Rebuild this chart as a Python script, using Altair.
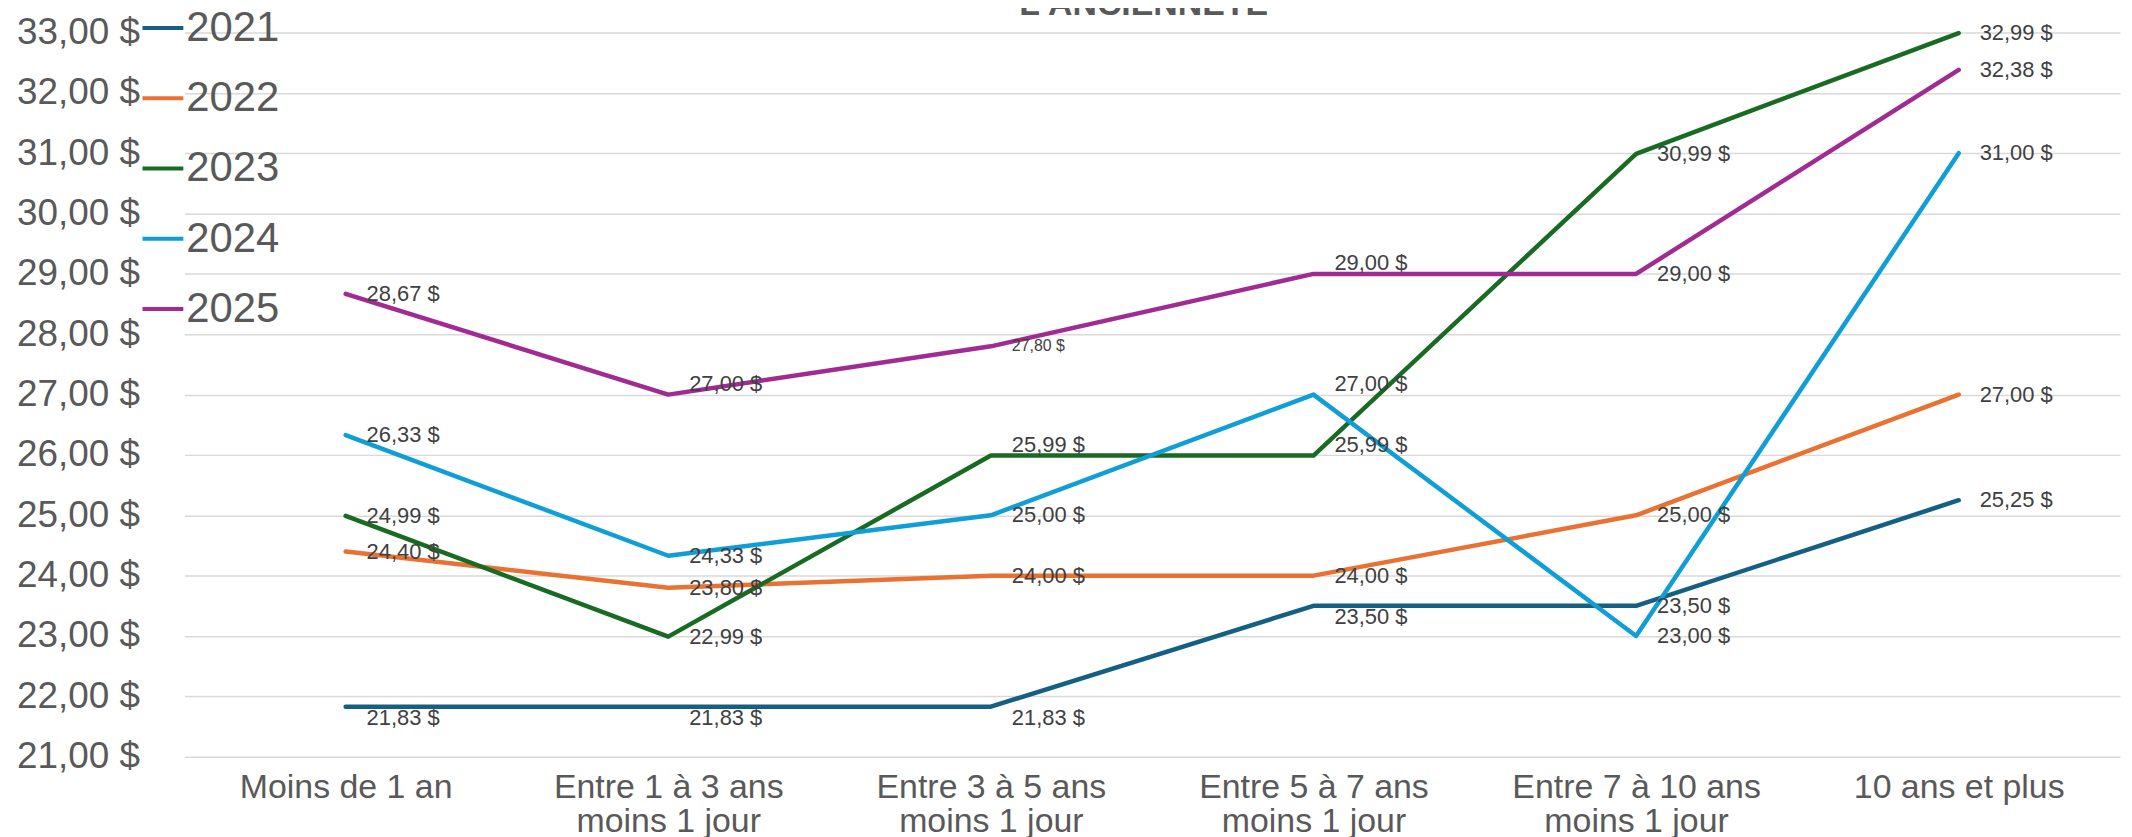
import altair as alt
import pandas as pd

CATEGORIES = [
    "Moins de 1 an",
    "Entre 1 à 3 ans moins 1 jour",
    "Entre 3 à 5 ans moins 1 jour",
    "Entre 5 à 7 ans moins 1 jour",
    "Entre 7 à 10 ans moins 1 jour",
    "10 ans et plus",
]
YEARS = ["2021", "2022", "2023", "2024", "2025"]
S2021 = [21.83, 21.83, 21.83, 23.50, 23.50, 25.25]
S2022 = [24.40, 23.80, 24.00, 24.00, 25.00, 27.00]
S2023 = [24.99, 22.99, 25.99, 25.99, 30.99, 32.99]
S2024 = [26.33, 24.33, 25.00, 27.00, 23.00, 31.00]
S2025 = [28.67, 27.00, 27.80, 29.00, 29.00, 32.38]
# Excel data-label placement per point
P2021 = ["below", "below", "below", "below", "right", "right"]
P2022 = ["right", "right", "right", "right", "right", "right"]
P2023 = ["right", "right", "above", "above", "right", "right"]
P2024 = ["right", "right", "right", "above", "right", "right"]
P2025 = ["right", "above", "small", "above", "right", "right"]
COLORS = ["#156082", "#E97132", "#196B24", "#0F9ED5", "#A02B93"]
TITLE = "L'ANCIENNETÉ"

FONT = "Liberation Sans"
series = [S2021, S2022, S2023, S2024, S2025]
places = [P2021, P2022, P2023, P2024, P2025]
rows = []
for year, vals, pos in zip(YEARS, series, places):
    for cat, v, p in zip(CATEGORIES, vals, pos):
        rows.append({"categorie": cat, "annee": year, "valeur": v, "pos": p})
df = pd.DataFrame(rows)

x_enc = alt.X(
    "categorie:N",
    sort=CATEGORIES,
    scale=alt.Scale(type="point", padding=0.5),
    axis=alt.Axis(
        title=None,
        labelExpr="split(replace(datum.label, ' moins', '|moins'), '|')",
        labelFont=FONT,
        labelFontSize=34,
        labelColor="#595959",
        labelLineHeight=34,
        labelPadding=14,
        labelAngle=0,
        labelLimit=400,
        ticks=False,
        tickSize=0,
        domain=False,
        grid=False,
    ),
)
y_enc = alt.Y(
    "valeur:Q",
    scale=alt.Scale(domain=[21, 33], nice=False, zero=False),
    axis=alt.Axis(
        title=None,
        values=list(range(21, 34)),
        labelExpr="replace(format(datum.value, '.2f'), '.', ',') + ' $'",
        labelFont=FONT,
        labelFontSize=37,
        labelColor="#595959",
        labelPadding=45,
        ticks=False,
        tickSize=0,
        domain=False,
        grid=True,
        gridColor="#d9d9d9",
        gridWidth=1.5,
    ),
)

base = alt.Chart(df)

lines = base.mark_line(strokeWidth=4.5, strokeJoin="round", strokeCap="round").encode(
    x=x_enc,
    y=y_enc,
    color=alt.Color(
        "annee:N",
        scale=alt.Scale(domain=YEARS, range=COLORS),
        legend=alt.Legend(
            title=None,
            orient="none",
            legendX=-44,
            legendY=-27,
            symbolType="stroke",
            symbolSize=1681,
            symbolStrokeWidth=4,
            labelFont=FONT,
            labelFontSize=42,
            labelColor="#595959",
            labelOffset=1,
            rowPadding=26.5,
            padding=0,
        ),
    ),
    detail="annee:N",
)

label_text = "replace(format(datum.valeur, '.2f'), '.', ',') + ' $'"


def labels(pos, dy, size):
    return (
        base.transform_filter(alt.datum.pos == pos)
        .transform_calculate(lab=label_text)
        .mark_text(align="left", baseline="middle", dx=21, dy=dy, font=FONT,
                   fontSize=size, color="#404040")
        .encode(x=alt.X("categorie:N", sort=CATEGORIES), y="valeur:Q", text="lab:N")
    )


title = alt.Chart(pd.DataFrame({"t": [TITLE]})).mark_text(
    align="center", baseline="alphabetic", font=FONT, fontSize=34,
    fontWeight="bold", color="#595959"
).encode(text="t:N", x=alt.value(963), y=alt.value(-18))

chart = alt.layer(
    lines,
    labels("right", 0, 22),
    labels("above", -11, 22),
    labels("below", 11, 22),
    labels("small", 0, 16),
    title,
).properties(
    width=1943,
    height=727,
    autosize=alt.AutoSizeParams(type="none"),
    padding={"left": 177, "top": 23, "right": 4, "bottom": 79},
).configure_view(stroke=None)

chart.save("out.html", embed_options={"renderer": "svg", "actions": False})
